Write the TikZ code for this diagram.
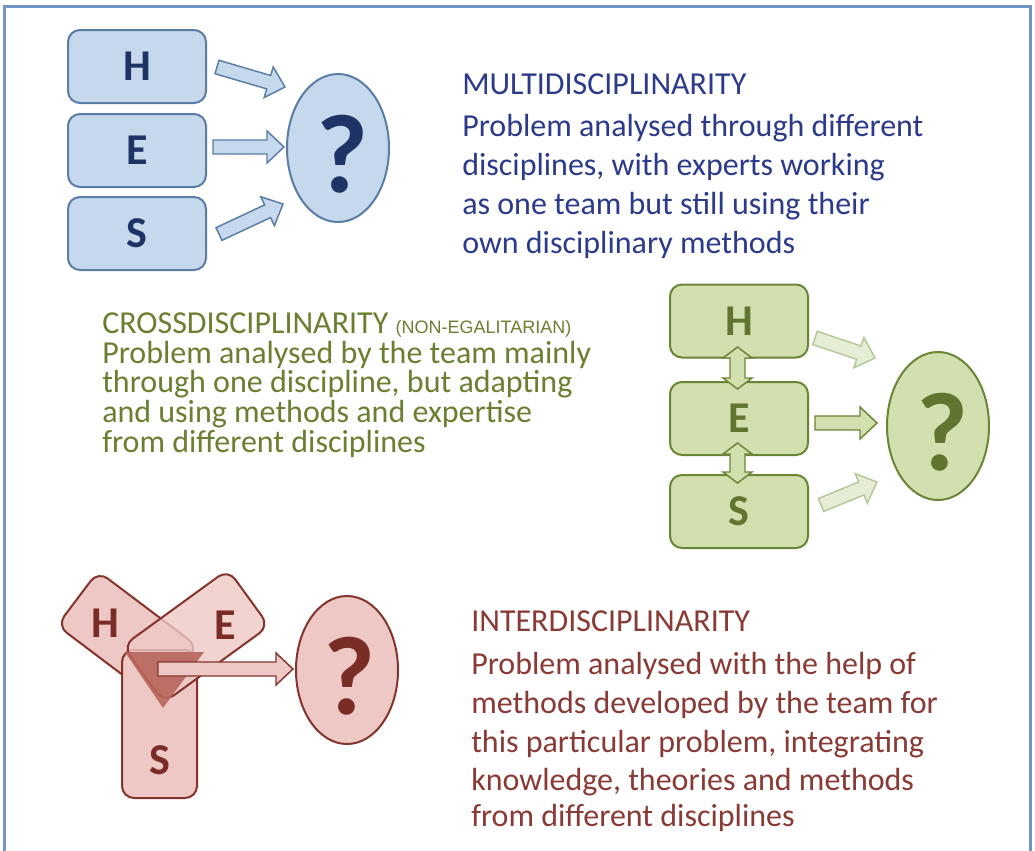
\documentclass[tikz,border=0pt]{standalone}
\usepackage{fontspec}
\setmainfont{Carlito}
\newfontfamily\arialf{Liberation Sans}
\usetikzlibrary{shapes.geometric,calc}
\definecolor{framec}{HTML}{7096C6}
\definecolor{bfill}{HTML}{C6D8EB}
\definecolor{bline}{HTML}{5A7DA6}
\definecolor{bletter}{HTML}{1F3366}
\definecolor{btxt}{HTML}{2B3A8A}
\definecolor{gfill}{HTML}{D2E0AF}
\definecolor{gline}{HTML}{6A8536}
\definecolor{gletter}{HTML}{5F7530}
\definecolor{gtxt}{HTML}{6A7F30}
\definecolor{gfadefill}{HTML}{E5EDD5}
\definecolor{gfadeline}{HTML}{B5C79B}
\definecolor{rfill}{HTML}{EEC8C4}
\definecolor{rline}{HTML}{84332D}
\definecolor{rletter}{HTML}{7A2C27}
\definecolor{rtxt}{HTML}{8A3A35}
\definecolor{rdark}{HTML}{B8665C}
\tikzset{
  hesbox/.style={rectangle, rounded corners=9pt, minimum width=103.5pt, minimum height=54.75pt, line width=1.5pt, inner sep=0pt},
  bbox/.style={hesbox, draw=bline, fill=bfill},
  gbox/.style={hesbox, draw=gline, fill=gfill},
  rbox/.style={rectangle, rounded corners=9pt, line width=1.5pt, inner sep=0pt, draw=rline, fill=rfill},
  qell/.style={ellipse, minimum width=76.5pt, minimum height=111pt, line width=1.5pt, inner sep=0pt},
  letter/.style={inner sep=0pt, font=\fontsize{33}{34}\selectfont\bfseries},
  qmark/.style={inner sep=0pt, font=\fontsize{84}{84}\selectfont\bfseries},
  para/.style={inner sep=0pt, anchor=base west, font=\fontsize{24}{28}\selectfont},
  barrowst/.style={draw=bline, fill=bfill, line width=1.1pt, line join=miter},
  garrowst/.style={draw=gline, fill=gfill, line width=1.1pt, line join=miter},
  gfadest/.style={draw=gfadeline, fill=gfadefill, line width=1.1pt, line join=miter},
  rarrowst/.style={draw=rline, fill=rfill, line width=1.1pt, line join=miter},
}
\newcommand\blockarrow[3]{%
  \path let \p1=($(#3)-(#2)$) in \pgfextra{%
    \pgfmathsetmacro\tmpang{atan2(\y1,\x1)}\xdef\baang{\tmpang}%
    \pgfmathsetmacro\tmplen{veclen(\x1,\y1)/0.75}\xdef\balen{\tmplen}};
  \begin{scope}[shift={(#2)},rotate=\baang]
    \draw[#1] (0,-7) -- ({\balen-17},-7) -- ({\balen-17},-16) -- (\balen,0) -- ({\balen-17},16) -- ({\balen-17},7) -- (0,7) -- cycle;
  \end{scope}}
\begin{document}
\begin{tikzpicture}[x=0.75pt,y=-0.75pt]
\useasboundingbox (0,0) rectangle (1035,850);
\fill[white] (0,0) rectangle (1035,850);
\draw[framec, line width=2pt] (4.5,851) -- (4.5,6.5) -- (1030.5,6.5) -- (1030.5,851);

% ---------- MULTIDISCIPLINARITY ----------
\node[bbox] (bH) at (137,66.5) {};
\node[bbox] (bE) at (137,150.5) {};
\node[bbox] (bS) at (137,233.5) {};
\node[letter, text=bletter] at (bH) {H};
\node[letter, text=bletter] at (bE) {E};
\node[letter, text=bletter] at (bS) {S};
\node[qell, draw=bline, fill=bfill] (bQ) at (338,148) {};
\node[qmark, text=bletter] at ($(bQ)+(4,6)$) {?};
\coordinate (bHa) at (217,67);  \coordinate (bHb) at (285,87);
\coordinate (bEa) at (213,147); \coordinate (bEb) at (284,147);
\coordinate (bSa) at (219,234); \coordinate (bSb) at (283,204);
\blockarrow{barrowst}{bHa}{bHb}
\blockarrow{barrowst}{bEa}{bEb}
\blockarrow{barrowst}{bSa}{bSb}
\node[para, text=btxt] at (462,94) {MULTIDISCIPLINARITY};
\node[para, text=btxt] at (462,136) {Problem analysed through different};
\node[para, text=btxt] at (462,175) {disciplines, with experts working};
\node[para, text=btxt] at (462,214) {as one team but still using their};
\node[para, text=btxt] at (462,253) {own disciplinary methods};

% ---------- CROSSDISCIPLINARITY ----------
\node[gbox] (gH) at (739,321) {};
\node[gbox] (gE) at (739,418.5) {};
\node[gbox] (gS) at (739,511.5) {};
\node[letter, text=gletter] at (gH) {H};
\node[letter, text=gletter] at (gE) {E};
\node[letter, text=gletter] at (gS) {S};
\node[qell, draw=gline, fill=gfill] (gQ) at (938,426) {};
\node[qmark, text=gletter] at ($(gQ)+(4,6)$) {?};
\draw[garrowst] (737.5,347) -- (752,358) -- (745,358) -- (745,378) -- (752,378) -- (737.5,389) -- (723,378) -- (730,378) -- (730,358) -- (723,358) -- cycle;
\draw[garrowst] (737.5,443) -- (752,454) -- (745,454) -- (745,472) -- (752,472) -- (737.5,483) -- (723,472) -- (730,472) -- (730,454) -- (723,454) -- cycle;
\coordinate (gHa) at (815,338); \coordinate (gHb) at (875,358);
\coordinate (gEa) at (815,423); \coordinate (gEb) at (877,423);
\coordinate (gSa) at (821,505); \coordinate (gSb) at (877,482);
\blockarrow{gfadest}{gHa}{gHb}
\blockarrow{garrowst}{gEa}{gEb}
\blockarrow{gfadest}{gSa}{gSb}
\node[para, text=gtxt] at (102,333) {CROSSDISCIPLINARITY {\arialf\fontsize{13.5}{14}\selectfont (NON-EGALITARIAN)}};
\node[para, text=gtxt] at (102,363) {Problem analysed by the team mainly};
\node[para, text=gtxt] at (102,392) {through one discipline, but adapting};
\node[para, text=gtxt] at (102,422) {and using methods and expertise};
\node[para, text=gtxt] at (102,452) {from different disciplines};

% ---------- INTERDISCIPLINARITY ----------
\node[rbox, minimum width=93.75pt, minimum height=51pt, rotate=-37] (rH) at (127.5,636) {};
\node[rbox, minimum width=56.25pt, minimum height=111pt] (rS) at (159.5,724) {};
\node[rbox, minimum width=97.5pt, minimum height=52.5pt, rotate=36, fill opacity=0.8] (rE) at (196,636) {};
\fill[rdark, opacity=0.9] (125,652) -- (204,652) -- (163,708) -- cycle;
\node[qell, draw=rline, fill=rfill] (rQ) at (347,670) {};
\coordinate (rAa) at (158,669); \coordinate (rAb) at (293,669);
\blockarrow{rarrowst}{rAa}{rAb}
\node[letter, text=rletter] at (105,623) {H};
\node[letter, text=rletter] at (225,625) {E};
\node[letter, text=rletter] at (160,760) {S};
\node[qmark, text=rletter] at ($(rQ)+(2,6)$) {?};
\node[para, text=rtxt] at (471,631) {INTERDISCIPLINARITY};
\node[para, text=rtxt] at (471,674) {Problem analysed with the help of};
\node[para, text=rtxt] at (471,713) {methods developed by the team for};
\node[para, text=rtxt] at (471,752) {this particular problem, integrating};
\node[para, text=rtxt] at (471,790) {knowledge, theories and methods};
\node[para, text=rtxt] at (471,826) {from different disciplines};
\end{tikzpicture}
\end{document}
